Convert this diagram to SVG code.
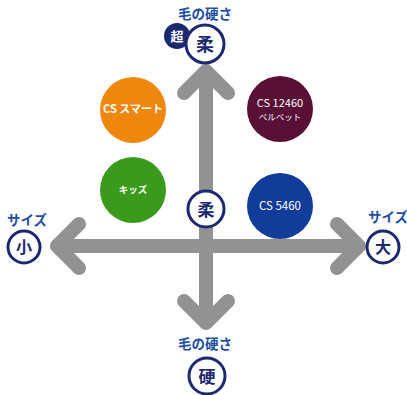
<svg xmlns="http://www.w3.org/2000/svg" width="407" height="395" viewBox="0 0 407 395">
<style>
.ar{fill:none;stroke:#929292;stroke-width:14;stroke-linecap:round;stroke-linejoin:round}
.sh{stroke:#929292;stroke-width:14}
.ax{fill:#fff;stroke:#1c2870;stroke-width:3}
.axt{font-family:"Noto Sans CJK JP","Noto Sans",sans-serif;font-weight:700;fill:#1c2870;text-anchor:middle}
.ttl{font-family:"Noto Sans CJK JP","Noto Sans",sans-serif;font-weight:700;fill:#1f4fa3;font-size:13.5px;text-anchor:middle}
.pt{font-family:"Noto Sans CJK JP","Liberation Sans",sans-serif;font-weight:700;fill:#fff;text-anchor:middle}
</style>
<rect width="407" height="395" fill="#fff"/>
<g id="connectors">
<line class="sh" x1="206" y1="72" x2="206" y2="322"/>
<polyline class="ar" points="184,93 206,71 228,93"/>
<polyline class="ar" points="184,301 206,323 228,301"/>
<line class="sh" x1="58" y1="246" x2="358" y2="246"/>
<polyline class="ar" points="79,224 57,246 79,268"/>
<polyline class="ar" points="337,224 359,246 337,268"/>
</g>
<g id="top-label"><text class="ttl" x="205" y="19">毛の硬さ</text></g>
<g id="node-super"><circle cx="177" cy="36" r="13" fill="#1c2870"/><text class="axt" x="177" y="41" font-size="13" style="fill:#fff">超</text></g>
<g id="node-soft-top"><circle class="ax" cx="205" cy="44" r="19"/><text class="axt" x="205" y="51" font-size="18">柔</text></g>
<g id="node-center"><circle class="ax" cx="206" cy="209" r="18"/><text class="axt" x="206" y="216" font-size="17">柔</text></g>
<g id="left-label"><text class="ttl" x="27" y="225">サイズ</text></g>
<g id="node-small"><circle class="ax" cx="24" cy="247" r="16"/><text class="axt" x="24" y="253" font-size="16">小</text></g>
<g id="right-label"><text class="ttl" x="388" y="222">サイズ</text></g>
<g id="node-large"><circle class="ax" cx="383" cy="247" r="16"/><text class="axt" x="383" y="253" font-size="16">大</text></g>
<g id="bottom-label"><text class="ttl" x="205" y="349">毛の硬さ</text></g>
<g id="node-hard"><circle class="ax" cx="207" cy="376" r="18"/><text class="axt" x="207" y="383" font-size="17">硬</text></g>
<g id="node-smart"><circle cx="133" cy="110" r="33" fill="#ef870f"/><text class="pt" x="133" y="113" font-size="11">CS スマート</text></g>
<g id="node-12460"><circle cx="280" cy="109" r="33" fill="#581036"/><text class="pt" x="280" y="107" font-size="11" style="font-weight:400">CS 12460</text><text class="pt" x="280" y="120" font-size="8.5" style="font-weight:400">ベルベット</text></g>
<g id="node-kids"><circle cx="133" cy="190" r="33" fill="#3a9a1c"/><text class="pt" x="133" y="193" font-size="9.5">キッズ</text></g>
<g id="node-5460"><circle cx="280" cy="206" r="33" fill="#113c99"/><text class="pt" x="280" y="210" font-size="11.5" style="font-weight:400">CS 5460</text></g>
</svg>
